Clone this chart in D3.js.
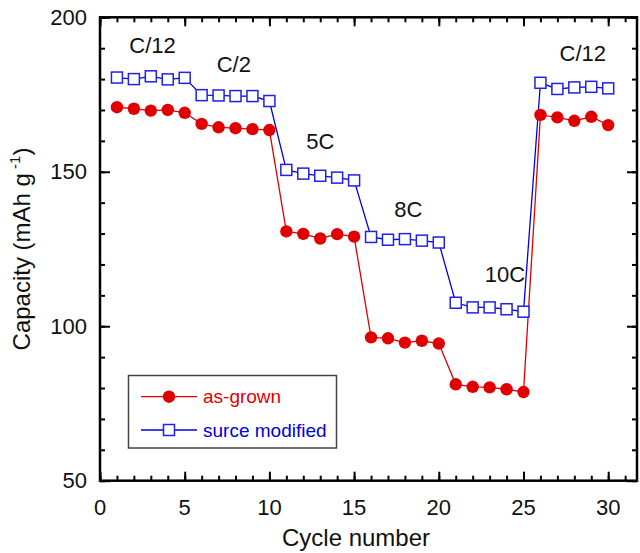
<!DOCTYPE html>
<html>
<head>
<meta charset="utf-8">
<script src="https://cdn.jsdelivr.net/npm/d3@7"></script>
<style>
  body { margin: 0; background: #fff; }
  svg text { font-family: "Liberation Sans", Arial, sans-serif; }
</style>
</head>
<body>
<svg id="chart" width="640" height="553"></svg>
<script>
const cycles = d3.range(1, 31);
const asGrown = [170.9, 170.4, 169.8, 170.0, 169.1, 165.5, 164.4, 164.1, 163.8, 163.5,
                 130.7, 129.9, 128.4, 129.8, 129.0, 96.4, 96.1, 94.7, 95.3, 94.4,
                 81.2, 80.4, 80.2, 79.6, 78.7, 168.4, 167.6, 166.5, 167.8, 165.1];
const surfaceModified = [180.5, 180.0, 180.9, 179.9, 180.4, 174.8, 174.7, 174.5, 174.5, 172.9,
                         150.6, 149.4, 148.7, 148.1, 147.2, 128.9, 128.0, 128.2, 127.7, 127.1,
                         107.6, 106.1, 106.1, 105.5, 104.7, 178.8, 176.8, 177.3, 177.5, 177.0];
const xTicks = [0, 5, 10, 15, 20, 25, 30];
const yTicks = [50, 100, 150, 200];
const rateLabels = ['C/12', 'C/2', '5C', '8C', '10C', 'C/12'];
const rateAt = [[3.1, 188.4], [7.9, 182.3], [13.0, 157.4], [18.2, 135.4], [23.9, 114.3], [28.5, 185.9]];
const seriesNames = ['as-grown', 'surce modified'];

const svg = d3.select('#chart');
const mLeft = 100, mRight = 637, mTop = 17.3, mBottom = 480.7;

const x = d3.scaleLinear().domain([0, 31.7]).range([mLeft, mRight]);
const y = d3.scaleLinear().domain([50, 200]).range([mBottom, mTop]);

const red = '#e00000';
const blue = '#0000e0';

// axes with inward ticks
const minorX = d3.range(0, 32);
const minorY = d3.range(50, 201, 10);

function tickAxis(axisFn, scale, ticks, size) {
    return axisFn(scale).tickValues(ticks).tickSize(size).tickFormat(() => '');
}

function drawAxis(g, gen) {
    g.call(gen);
    g.select('.domain').remove();
    g.selectAll('line').attr('stroke', '#000').attr('stroke-width', 2);
}

// bottom
drawAxis(svg.append('g').attr('transform', `translate(0,${mBottom})`), tickAxis(d3.axisTop, x, minorX, 5));
drawAxis(svg.append('g').attr('transform', `translate(0,${mBottom})`), tickAxis(d3.axisTop, x, xTicks, 9));
svg.append('g').selectAll('text').data(xTicks).enter().append('text')
    .attr('x', d => x(d)).attr('y', 515)
    .attr('text-anchor', 'middle').attr('font-size', 22).attr('fill', '#111')
    .text(d => d);
// top
drawAxis(svg.append('g').attr('transform', `translate(0,${mTop})`), tickAxis(d3.axisBottom, x, minorX, 5));
drawAxis(svg.append('g').attr('transform', `translate(0,${mTop})`), tickAxis(d3.axisBottom, x, xTicks, 9));
// left
drawAxis(svg.append('g').attr('transform', `translate(${mLeft},0)`), tickAxis(d3.axisRight, y, minorY, 5));
drawAxis(svg.append('g').attr('transform', `translate(${mLeft},0)`), tickAxis(d3.axisRight, y, yTicks, 10));
svg.append('g').selectAll('text').data(yTicks).enter().append('text')
    .attr('x', 87).attr('y', d => y(d)).attr('dy', '0.35em')
    .attr('text-anchor', 'end').attr('font-size', 22).attr('fill', '#111')
    .text(d => d);
// right
drawAxis(svg.append('g').attr('transform', `translate(${mRight},0)`), tickAxis(d3.axisLeft, y, minorY, 5));
drawAxis(svg.append('g').attr('transform', `translate(${mRight},0)`), tickAxis(d3.axisLeft, y, yTicks, 10));

// frame
svg.append('rect')
    .attr('x', mLeft).attr('y', mTop)
    .attr('width', mRight - mLeft).attr('height', mBottom - mTop)
    .attr('fill', 'none').attr('stroke', '#000').attr('stroke-width', 2.5);

// axis titles
svg.append('text')
    .attr('x', 356).attr('y', 546)
    .attr('text-anchor', 'middle').attr('font-size', 24).attr('fill', '#111')
    .text('Cycle number');
const yt = svg.append('text')
    .attr('transform', 'translate(30,249) rotate(-90)')
    .attr('text-anchor', 'middle').attr('font-size', 24).attr('fill', '#111');
yt.append('tspan').text('Capacity (mAh g');
yt.append('tspan').attr('font-size', 15).attr('dy', -10).text(' -1');
yt.append('tspan').attr('dy', 10).text(')');

// series
const line = d3.line().x(d => x(d[0])).y(d => y(d[1]));
const redPts = cycles.map((c, i) => [c, asGrown[i]]);
const bluePts = cycles.map((c, i) => [c, surfaceModified[i]]);

svg.append('path').datum(bluePts).attr('d', line)
    .attr('fill', 'none').attr('stroke', blue).attr('stroke-width', 1.3);
svg.append('path').datum(redPts).attr('d', line)
    .attr('fill', 'none').attr('stroke', red).attr('stroke-width', 1.3);

svg.append('g').selectAll('rect').data(bluePts).enter().append('rect')
    .attr('x', d => x(d[0]) - 5.5).attr('y', d => y(d[1]) - 5.5)
    .attr('width', 11).attr('height', 11)
    .attr('fill', '#fff').attr('stroke', '#2020e8').attr('stroke-width', 1.5);
svg.append('g').selectAll('circle').data(redPts).enter().append('circle')
    .attr('cx', d => x(d[0])).attr('cy', d => y(d[1])).attr('r', 6.2)
    .attr('fill', red);

// rate annotations
svg.append('g').selectAll('text').data(rateLabels).enter().append('text')
    .attr('x', (d, i) => x(rateAt[i][0])).attr('y', (d, i) => y(rateAt[i][1]))
    .attr('text-anchor', 'middle').attr('font-size', 22).attr('fill', '#111')
    .text(d => d);

// legend
const lg = svg.append('g');
lg.append('rect').attr('x', 128.5).attr('y', 375.5).attr('width', 208).attr('height', 72.5)
    .attr('fill', '#fff').attr('stroke', '#444').attr('stroke-width', 1.5);
const rows = [396.7, 430];
const colors = [red, blue];
seriesNames.forEach((name, i) => {
    lg.append('line').attr('x1', 141).attr('x2', 197).attr('y1', rows[i]).attr('y2', rows[i])
        .attr('stroke', colors[i]).attr('stroke-width', 1.3);
    if (i === 0) {
        lg.append('circle').attr('cx', 169).attr('cy', rows[i]).attr('r', 6.2).attr('fill', red);
    } else {
        lg.append('rect').attr('x', 169 - 5.5).attr('y', rows[i] - 5.5).attr('width', 11).attr('height', 11)
            .attr('fill', '#fff').attr('stroke', '#2020e8').attr('stroke-width', 1.5);
    }
    lg.append('text').attr('x', 203).attr('y', rows[i]).attr('dy', '0.35em')
        .attr('font-size', 19).attr('fill', colors[i]).text(name);
});
</script>
</body>
</html>
